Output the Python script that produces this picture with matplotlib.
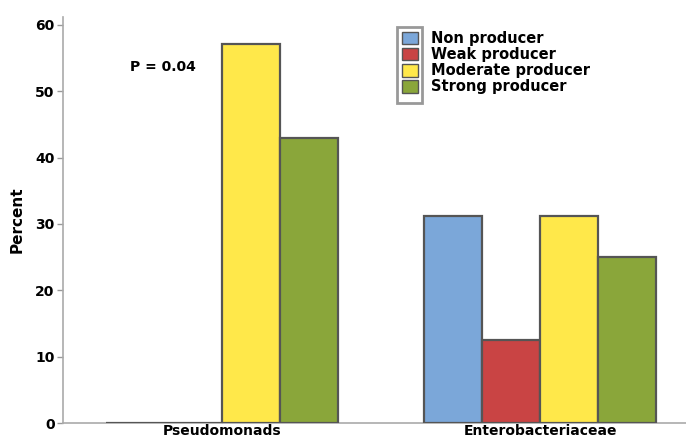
import matplotlib
matplotlib.use('Agg')
import matplotlib.pyplot as plt
from matplotlib.patches import Patch, Rectangle
import numpy as np

# dados
grupos = ["Pseudomonads", "Enterobacteriaceae"]
series = ["Non producer", "Weak producer", "Moderate producer", "Strong producer"]
non_producer = [0, 31.25]
weak_producer = [0, 12.5]
moderate_producer = [57.1, 31.25]
strong_producer = [42.9, 25.0]
cores = ["#7BA7D9", "#C94444", "#FFE84A", "#8AA63A"]

valores = [non_producer, weak_producer, moderate_producer, strong_producer]

fig = plt.figure(figsize=(6.86, 4.44), dpi=100)
ax = fig.add_axes([63/686, 21/444, 1 - 63/686, (423-17)/444])

x = np.arange(len(grupos))
largura = 0.182
for i, (vals, cor) in enumerate(zip(valores, cores)):
    ax.bar(x + (i - 1.5) * largura, vals, width=largura, color=cor,
           edgecolor="#555555", linewidth=1.6, zorder=3)

ax.set_xlim(-0.5, 1.459)
ax.set_ylim(0, 61.2)
ax.set_yticks([0, 10, 20, 30, 40, 50, 60])
ax.set_xticks(x)
ax.set_xticklabels(grupos, fontweight='bold', fontsize=10)
for lbl in ax.get_yticklabels():
    lbl.set_fontweight('bold')
    lbl.set_fontsize(10)
ax.tick_params(axis='y', color='#999999', length=4, width=1, pad=2)
ax.tick_params(axis='x', color='#999999', direction='in', length=4, width=1, pad=1)

for s in ['top', 'right']:
    ax.spines[s].set_visible(False)
for s in ['left', 'bottom']:
    ax.spines[s].set_color('#AAAAAA')
    ax.spines[s].set_linewidth(1.2)

ax.set_ylabel("Percent", fontweight='bold', fontsize=11, labelpad=8)
ax.text(130/686, 1 - 67/444, "P = 0.04", transform=fig.transFigure,
        fontweight='bold', fontsize=10, va='center', ha='left')

# legenda
handles = [Patch(facecolor=c, edgecolor='#555555', linewidth=1) for c in cores]
leg = ax.legend(handles, series, loc='upper left',
                bbox_to_anchor=(402/686, 1 - 31/444), bbox_transform=fig.transFigure,
                frameon=False, borderpad=0, borderaxespad=0,
                handlelength=1.1, handleheight=0.95, handletextpad=0.9,
                labelspacing=0.08, prop={'weight': 'bold', 'size': 10.5})
fig.patches.append(Rectangle((397/686, 1 - 103/444), 25/686, 76/444,
                             transform=fig.transFigure, fill=False,
                             edgecolor='#999999', linewidth=2))

plt.savefig("out.png", dpi=100)
plt.close()
